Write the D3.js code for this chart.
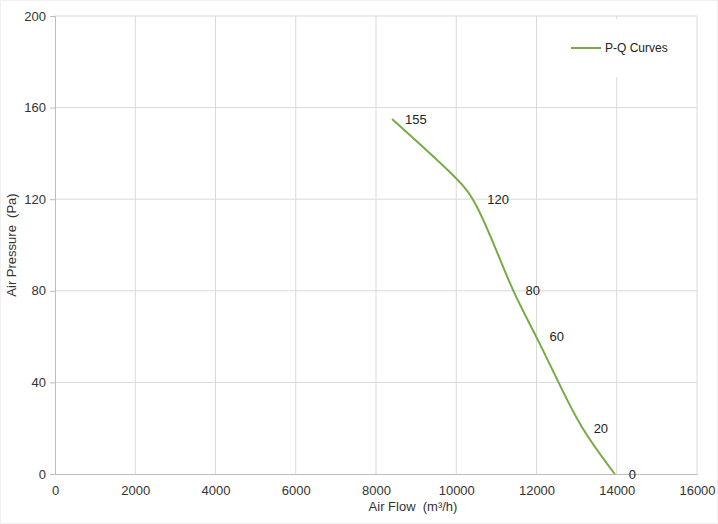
<!DOCTYPE html>
<html><head><meta charset="utf-8">
<script src="https://cdn.jsdelivr.net/npm/d3@7"></script>
<style>body{margin:0;background:#fff;} text{font-family:"Liberation Sans",Arial,sans-serif; white-space:pre;}</style>
</head><body>
<svg id="c" width="718" height="524"></svg>
<script>
const flow = [8400, 9100, 9900, 10170, 10450, 11000, 11400, 12000, 12550, 13100, 13950];
const pressure = [155, 144, 131, 126, 120, 98, 80, 60, 40, 20, 0];
const pointLabels = ["155", "", "", "", "120", "", "80", "60", "", "20", "0"];
const xTicks = [0, 2000, 4000, 6000, 8000, 10000, 12000, 14000, 16000];
const yTicks = [0, 40, 80, 120, 160, 200];
const seriesName = "P-Q Curves";

const svg = d3.select("#c");
const m = {l:55, r:21, t:16, b:50};
const W = 718, H = 524;
const x = d3.scaleLinear().domain([0,16000]).range([m.l, W-m.r]);
const y = d3.scaleLinear().domain([0,200]).range([H-m.b, m.t]);

svg.append("rect").attr("x",0.5).attr("y",0.5).attr("width",W-1).attr("height",H-1).attr("fill","#fff").attr("stroke","#f0f0f0");

// grid
const g = svg.append("g");
g.selectAll(".vg").data(xTicks.slice(1)).join("line")
  .attr("x1",d=>x(d)).attr("x2",d=>x(d)).attr("y1",y(200)).attr("y2",y(0))
  .attr("stroke","#d9d9d9").attr("stroke-width",1);
g.selectAll(".hg").data(yTicks.slice(1)).join("line")
  .attr("x1",x(0)).attr("x2",x(16000)).attr("y1",d=>y(d)).attr("y2",d=>y(d))
  .attr("stroke","#d9d9d9").attr("stroke-width",1);

// axes
const ya = svg.append("g").attr("transform",`translate(${x(0)},0)`)
  .call(d3.axisLeft(y).tickValues(yTicks).tickSize(5).tickPadding(4));
ya.select(".domain").attr("stroke","#bdbdbd");
ya.selectAll(".tick line").attr("stroke","#bdbdbd");
ya.selectAll("text").attr("font-size",13).attr("fill","#333");

const xa = svg.append("g").attr("transform",`translate(0,${y(0)})`)
  .call(d3.axisBottom(x).tickValues(xTicks).tickSize(0).tickPadding(12).tickFormat(d3.format("d")));
xa.select(".domain").attr("stroke","#bdbdbd");
xa.selectAll("text").attr("font-size",13).attr("fill","#333");

// legend box (white, covers grid)
svg.append("rect").attr("x",556).attr("y",19).attr("width",134).attr("height",58).attr("fill","#fff");
svg.append("line").attr("x1",571).attr("x2",601).attr("y1",48).attr("y2",48).attr("stroke","#7aaa45").attr("stroke-width",2);
svg.append("text").attr("x",605).attr("y",48).attr("dy","0.35em").attr("font-size",12).attr("fill","#222").text(seriesName);

// curve
const pts = flow.map((f,i)=>({f, p:pressure[i], l:pointLabels[i]}));
svg.append("path").datum(pts)
  .attr("d", d3.line().x(d=>x(d.f)).y(d=>y(d.p)).curve(d3.curveBasis))
  .attr("fill","none").attr("stroke","#7aaa45").attr("stroke-width",2);

svg.selectAll(".pl").data(pts.filter(d=>d.l)).join("text")
  .attr("x",d=>x(d.f)+(d.p===0?14:13)).attr("y",d=>y(d.p)).attr("dy","0.35em")
  .attr("font-size",13).attr("fill","#222").text(d=>d.l);

// titles
svg.append("text").attr("x",413).attr("y",511).attr("text-anchor","middle").attr("font-size",13).attr("fill","#333").text("Air Flow  (m³/h)");
svg.append("text").attr("transform","translate(16,245) rotate(-90)").attr("text-anchor","middle").attr("font-size",13).attr("fill","#333").text("Air Pressure  (Pa)");
</script>
</body></html>
